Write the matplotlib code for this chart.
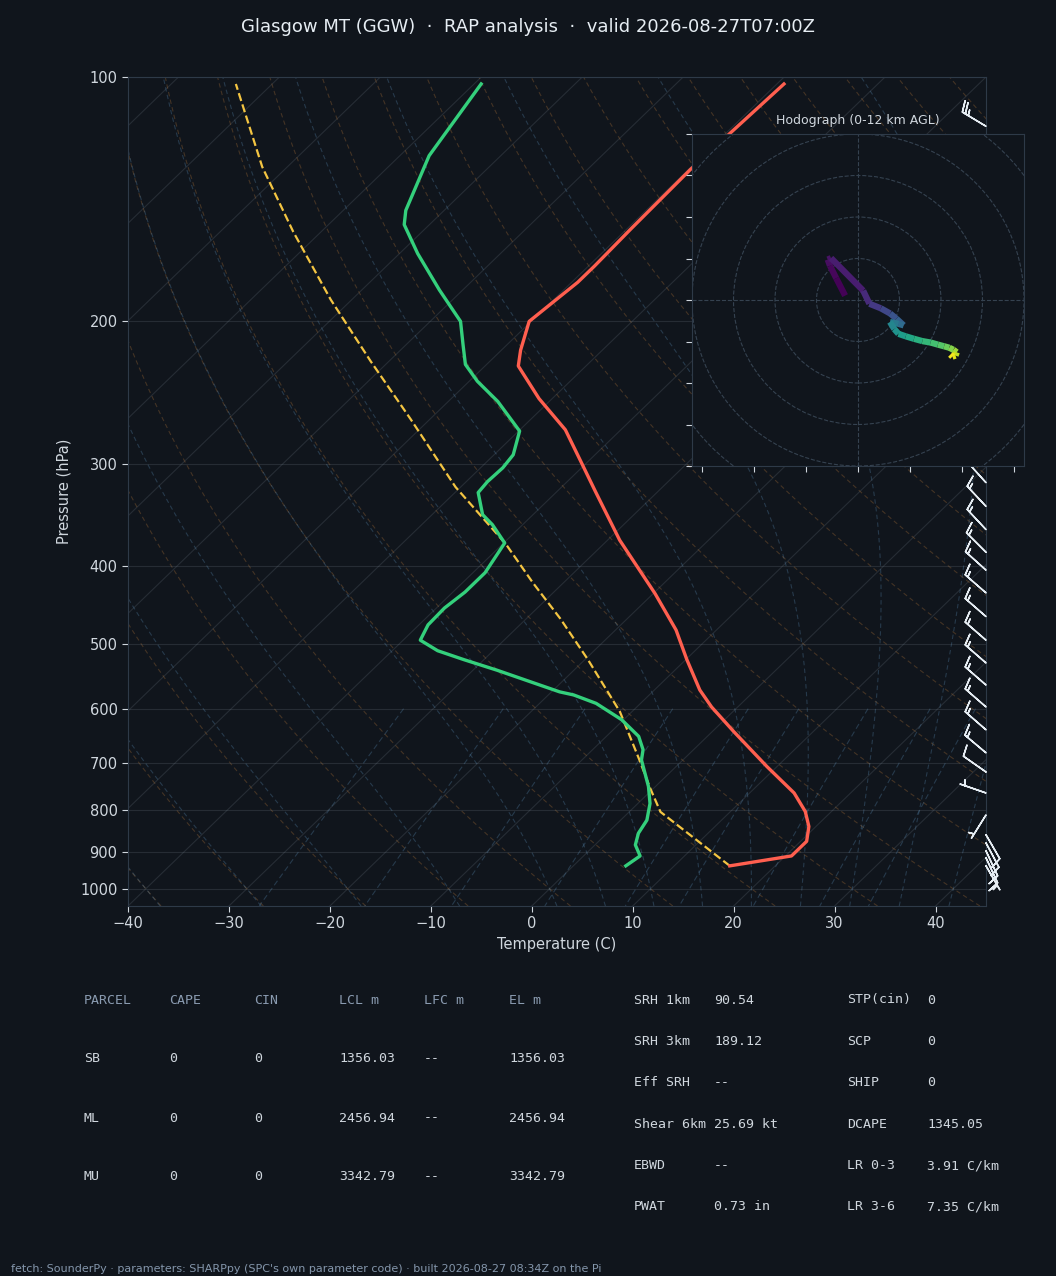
import numpy as np
import matplotlib
matplotlib.use("Agg")
import matplotlib.pyplot as plt
from matplotlib.transforms import Affine2D
from matplotlib.collections import LineCollection
from matplotlib.patches import Circle
from matplotlib.ticker import NullLocator

# ------------------------------------------------------------------ data
title = "Glasgow MT (GGW)  \u00b7  RAP analysis  \u00b7  valid 2026-08-27T07:00Z"
footer = ("fetch: SounderPy \u00b7 parameters: SHARPpy (SPC's own parameter code) "
          "\u00b7 built 2026-08-27 08:34Z on the Pi")

temp_p = [937, 911, 874, 838, 803, 762, 707, 640, 597, 569, 522, 480, 433, 372,
          324, 296, 272, 249, 227, 217, 200, 179, 171, 154, 130, 102]
temp_c = [15.5, 20.6, 20.6, 19.3, 17.4, 14.4, 9.0, 2.1, -2.6, -5.5, -9.9, -14.0,
          -19.8, -28.8, -36.2, -41.0, -45.5, -51.3, -56.7, -58.1, -60.2, -59.4,
          -59.4, -59.6, -59.8, -59.3]

dew_p = [937, 911, 883, 854, 823, 785, 748, 694, 674, 649, 619, 591, 577, 572,
         558, 538, 522, 509, 494, 473, 451, 431, 408, 375, 356, 346, 325, 315,
         303, 292, 273, 251, 237, 226, 214, 200, 183, 165, 152, 146, 125, 102]
dew_c = [5.2, 5.6, 4.0, 3.1, 2.6, 1.2, -0.7, -4.1, -5.0, -6.8, -10.2, -14.4,
         -17.5, -19.2, -22.6, -27.6, -32.0, -35.5, -38.3, -39.1, -39.2, -38.8,
         -38.8, -39.9, -43.0, -45.0, -47.7, -47.9, -47.8, -48.1, -49.9, -55.1,
         -59.2, -62.1, -64.3, -67.0, -72.3, -78.2, -82.5, -83.8, -87.1, -89.3]

parcel_p = [937, 804, 751, 694, 605, 522, 465, 420, 376, 320, 264, 224, 188,
            155, 129, 102]
parcel_c = [15.5, 3.1, -0.4, -4.3, -11.2, -19.7, -26.6, -33.0, -39.7, -50.5,
            -61.9, -71.8, -82.1, -92.8, -102.5, -113.6]

# hodograph trace (kt) with height AGL (km)
hodo_z = [0.0, 0.15, 0.3, 0.5, 0.7, 1.2, 1.7, 2.3, 2.8, 3.3, 3.9, 4.5, 5.2, 5.8,
          6.4, 6.9, 7.4, 7.8, 8.2, 8.6, 9.0, 9.5, 10.0, 10.6, 11.2, 11.7, 12.0]
hodo_u = [-6.2, -10.5, -13.5, -14.6, -13.0, 2.5, 5.5, 11.0, 15.5, 18.5, 22.0,
          19.5, 15.4, 17.5, 19.5, 23.0, 27.0, 31.0, 35.0, 38.5, 41.5, 44.0, 46.0,
          47.6, 47.0, 45.5, 44.5]
hodo_v = [2.1, 10.5, 16.5, 19.5, 20.2, 4.5, -1.8, -4.0, -6.5, -9.0, -12.2, -11.5,
          -10.6, -14.0, -16.3, -17.5, -18.7, -19.8, -20.5, -21.5, -22.3, -23.0,
          -24.0, -25.2, -26.8, -27.3, -26.3]

# wind barbs: pressure (hPa), direction (deg), speed (m/s)
barb_p = [937, 916, 898, 878, 858, 811, 762, 718, 680, 637, 597, 561, 527, 494,
          462, 432, 405, 385, 361, 338, 316, 290, 264, 240, 215, 193, 178, 115]
barb_dir = [150, 155, 155, 152, 150, 212, 289, 305, 310, 311, 311, 311, 311, 311,
            311, 311, 312, 315, 317, 317, 318, 305, 300, 300, 300, 300, 300, 301]
barb_spd = [5, 10, 10, 10, 10, 5, 5, 10, 15, 15, 15, 15, 15, 15, 15, 15, 15,
            15, 15, 15, 25, 25, 25, 25, 25, 25, 25, 25]

p_ticks = [100, 200, 300, 400, 500, 600, 700, 800, 900, 1000]
t_ticks = [-40, -30, -20, -10, 0, 10, 20, 30, 40]

parcel_header = ["PARCEL", "CAPE", "CIN", "LCL m", "LFC m", "EL m"]
parcel_rows = [["SB", "0", "0", "1356.03", "--", "1356.03"],
               ["ML", "0", "0", "2456.94", "--", "2456.94"],
               ["MU", "0", "0", "3342.79", "--", "3342.79"]]
kin_labels = ["SRH 1km", "SRH 3km", "Eff SRH", "Shear 6km", "EBWD", "PWAT"]
kin_values = ["90.54", "189.12", "--", "25.69 kt", "--", "0.73 in"]
thermo_labels = ["STP(cin)", "SCP", "SHIP", "DCAPE", "LR 0-3", "LR 3-6"]
thermo_values = ["0", "0", "0", "1345.05", "3.91 C/km", "7.35 C/km"]

# ------------------------------------------------------------------ style
BG = '#10151c'
SPINE = '#2e3a48'
TXT = '#d0d7de'
HDR = '#8a9bb0'
W, H = 1056, 1276

fig = plt.figure(figsize=(W / 100, H / 100), dpi=100, facecolor=BG)

ax = fig.add_axes([128 / W, 1 - 906 / H, 858 / W, 829 / H])
ax.set_facecolor(BG)
ax.set_yscale('log')
ax.set_ylim(1050, 100)
ax.set_xlim(-40, 45)
ax.set_autoscale_on(False)
skew = ax.transScale + ax.transLimits + Affine2D().skew_deg(45, 0) + ax.transAxes

for s in ax.spines.values():
    s.set_color(SPINE)
ax.set_yticks(p_ticks)
ax.set_yticklabels([str(p) for p in p_ticks])
ax.yaxis.set_minor_locator(NullLocator())
ax.set_xticks(t_ticks)
ax.tick_params(colors=TXT, labelsize=10.5, length=4)
ax.set_xlabel("Temperature (C)", color=TXT, fontsize=10.5, labelpad=4)
ax.set_ylabel("Pressure (hPa)", color=TXT, fontsize=10.5, labelpad=6)
ax.grid(axis='y', color='#8b98a5', alpha=0.18, lw=0.8)
ax.grid(axis='x', visible=False)

# isotherms (skewed)
for t in range(-160, 50, 10):
    ax.plot([t, t], [1050, 100], transform=skew, color='#8b98a5', alpha=0.18,
            lw=0.8, zorder=1)

# dry adiabats
p_bg = np.linspace(1050, 100, 951)
for t0 in np.arange(-40, 246, 10):
    tk = (t0 + 273.15) * (p_bg / 1000.0) ** 0.2857 - 273.15
    ax.plot(tk, p_bg, transform=skew, color='#c8823c', alpha=0.28, lw=0.8,
            ls=(0, (4, 3)), zorder=1)

# moist adiabats (integrated)
Rd, Cp, Lv, eps = 287.04749, 1004.6662, 2.50084e6, 0.622


def dtdp(p, t):
    es = 6.112 * np.exp(17.67 * (t - 273.15) / (t - 29.65))
    rs = eps * es / (p - es)
    return (Rd * t + Lv * rs) / (Cp + Lv * Lv * rs * eps / (Rd * t * t)) / p


t0s = np.concatenate((np.arange(-40, 0, 10), np.arange(0, 46, 5))) + 273.15
prof = np.empty((len(t0s), len(p_bg)))
i0 = int(np.argmin(np.abs(p_bg - 1000)))
prof[:, i0] = t0s
for direction in (1, -1):
    i = i0
    t = t0s.copy()
    while 0 <= i + direction < len(p_bg):
        p1, p2 = p_bg[i], p_bg[i + direction]
        h = p2 - p1
        k1 = dtdp(p1, t)
        k2 = dtdp(p1 + h / 2, t + h / 2 * k1)
        k3 = dtdp(p1 + h / 2, t + h / 2 * k2)
        k4 = dtdp(p2, t + h * k3)
        t = t + h / 6 * (k1 + 2 * k2 + 2 * k3 + k4)
        i += direction
        prof[:, i] = t
for row in prof:
    ax.plot(row - 273.15, p_bg, transform=skew, color='#5b8fb9', alpha=0.3,
            lw=0.8, ls=(0, (4, 3)), zorder=1)

# mixing ratio lines
p_mix = np.linspace(600, 1050, 100)
for w in [0.0004, 0.001, 0.002, 0.004, 0.007, 0.01, 0.016, 0.024, 0.032]:
    e = p_mix * w / (eps + w)
    lg = np.log(e / 6.112)
    td = 243.5 * lg / (17.67 - lg)
    ax.plot(td, p_mix, transform=skew, color='#5b8fb9', alpha=0.3, lw=0.8,
            ls=(0, (5, 3)), zorder=1)

# profiles
ax.plot(parcel_c, parcel_p, transform=skew, color='#f4c542', lw=1.6, ls='--',
        zorder=4)
ax.plot(temp_c, temp_p, transform=skew, color='#ff5f4f', lw=2.4, zorder=5)
ax.plot(dew_c, dew_p, transform=skew, color='#34d07c', lw=2.4, zorder=5)

# wind barbs at right edge
rad = np.deg2rad(barb_dir)
bu = -np.array(barb_spd) * np.sin(rad)
bv = -np.array(barb_spd) * np.cos(rad)
ax.barbs(np.ones(len(barb_p)), barb_p, bu, bv,
         transform=ax.get_yaxis_transform(), clip_on=False, length=6.3,
         color='#e6edf3', linewidth=1.1, zorder=6)

# ------------------------------------------------------------------ hodograph
ax2 = fig.add_axes([692 / W, 1 - 466 / H, 332 / W, 332 / H])
ax2.set_facecolor(BG)
ax2.set_xlim(-80, 80)
ax2.set_ylim(-80, 80)
for s in ax2.spines.values():
    s.set_color(SPINE)
ax2.set_xticks([-75, -50, -25, 0, 25, 50, 75])
ax2.set_yticks(list(range(-80, 81, 20)))
ax2.tick_params(labelbottom=False, labelleft=False, colors=TXT, length=4)
ax2.set_title("Hodograph (0-12 km AGL)", color=TXT, fontsize=9, pad=7)
for r in [20, 40, 60, 80, 100]:
    ax2.add_patch(Circle((0, 0), r, fill=False, ls='--', ec='#354250', lw=0.8))
ax2.axhline(0, ls='--', color='#354250', lw=0.8)
ax2.axvline(0, ls='--', color='#354250', lw=0.8)

hz = np.array(hodo_z)
pts = np.column_stack([hodo_u, hodo_v]).reshape(-1, 1, 2)
segs = np.concatenate([pts[:-1], pts[1:]], axis=1)
lc = LineCollection(segs, cmap='viridis', norm=plt.Normalize(0, 12), lw=4.5)
lc.set_array((hz[:-1] + hz[1:]) / 2)
ax2.add_collection(lc)

# ------------------------------------------------------------------ texts
fig.text(0.5, 1 - 27 / H, title, ha='center', va='center', color='#e6edf3',
         fontsize=13)

mono = 'DejaVu Sans Mono'
col_x = [84, 169, 254, 339, 424, 509]
for x, h in zip(col_x, parcel_header):
    fig.text(x / W, 1 - 1000 / H, h, family=mono, fontsize=9.5, color=HDR,
             va='center')
for r, row in enumerate(parcel_rows):
    y = 1059 + r * 59
    for x, val in zip(col_x, row):
        fig.text(x / W, 1 - y / H, val, family=mono, fontsize=9.5, color=TXT,
                 va='center')

for i in range(6):
    y = 1000 + i * 41.4
    fig.text(634 / W, 1 - y / H, kin_labels[i], family=mono, fontsize=9.5,
             color=TXT, va='center')
    fig.text(714 / W, 1 - y / H, kin_values[i], family=mono, fontsize=9.5,
             color=TXT, va='center')
    fig.text(847 / W, 1 - y / H, thermo_labels[i], family=mono, fontsize=9.5,
             color=TXT, va='center')
    fig.text(927 / W, 1 - y / H, thermo_values[i], family=mono, fontsize=9.5,
             color=TXT, va='center')

fig.text(11 / W, 1 - 1269 / H, footer, fontsize=8, color='#8496ab', va='center')

fig.savefig("out.png", dpi=100, facecolor=BG)
